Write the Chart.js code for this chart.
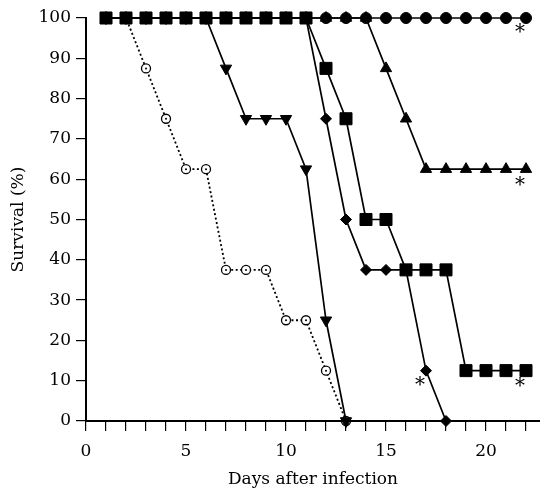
<!DOCTYPE html>
<html><head><meta charset="utf-8">
<script src="https://cdn.jsdelivr.net/npm/chart.js@4/dist/chart.umd.min.js"></script>
<style>html,body{margin:0;padding:0;background:#fff}#wrap{width:540px;height:491px}</style>
</head><body><div id="wrap"><canvas id="c" width="540" height="491"></canvas></div>
<script>
const days = [1,2,3,4,5,6,7,8,9,10,11,12,13,14,15,16,17,18,19,20,21,22];
const survCircleFilled = [100,100,100,100,100,100,100,100,100,100,100,100,100,100,100,100,100,100,100,100,100,100];
const survSquare = [100,100,100,100,100,100,100,100,100,100,100,87.5,75,50,50,37.5,37.5,37.5,12.5,12.5,12.5,12.5];
const survTriangleUp = [100,100,100,100,100,100,100,100,100,100,100,100,100,100,87.5,75,62.5,62.5,62.5,62.5,62.5,62.5];
const survDiamond = [100,100,100,100,100,100,100,100,100,100,100,75,50,37.5,37.5,37.5,12.5,0];
const survTriangleDown = [100,100,100,100,100,100,87.5,75,75,75,62.5,25,0];
const survCircleOpen = [100,100,87.5,75,62.5,62.5,37.5,37.5,37.5,25,25,12.5,0];
const xTickLabels = [0,5,10,15,20];
const asteriskX = [21.7, 21.7, 21.7, 16.7];
const asteriskY = [97.2, 59.4, 9.5, 9.7];

const pts = arr => arr.map((v,i)=>({x: days[i], y: v}));
const FONT = '"DejaVu Serif", "Liberation Serif", serif';

const asteriskPlugin = {
  id: 'asterisks',
  afterDatasetsDraw(chart) {
    const {ctx, scales:{x, y}} = chart;
    ctx.save();
    ctx.fillStyle = '#000';
    ctx.font = '20px ' + FONT;
    ctx.textAlign = 'center';
    ctx.textBaseline = 'middle';
    asteriskX.forEach((ax, i) => {
      ctx.fillText('*', x.getPixelForValue(ax), y.getPixelForValue(asteriskY[i]) + 4);
    });
    ctx.restore();
  }
};

const line = {borderColor:'#000', borderWidth:1.7, pointBackgroundColor:'#000', pointBorderColor:'#000', pointBorderWidth:1, tension:0, fill:false};

new Chart(document.getElementById('c'), {
  type: 'line',
  data: {
    datasets: [
      Object.assign({label:'square', data: pts(survSquare), pointStyle:'rect', pointRadius:8.5}, line),
      Object.assign({label:'circle', data: pts(survCircleFilled), pointStyle:'circle', pointRadius:5.5}, line),
      Object.assign({label:'triUp', data: pts(survTriangleUp), pointStyle:'triangle', pointRadius:6.5}, line),
      Object.assign({label:'diamond', data: pts(survDiamond), pointStyle:'rectRot', pointRadius:5.5}, line),
      Object.assign({label:'triDown', data: pts(survTriangleDown), pointStyle:'triangle', pointRotation:180, pointRadius:6.5}, line),
      {label:'openDot', data: pts(survCircleOpen), showLine:false, pointStyle:'circle', pointRadius:1, pointBackgroundColor:'#000', pointBorderColor:'#000', pointBorderWidth:0},
      {label:'open', data: pts(survCircleOpen), borderColor:'#000', borderWidth:1.8, borderDash:[2,2.5], pointStyle:'circle', pointRadius:4.5, pointBackgroundColor:'#fff', pointBorderColor:'#000', pointBorderWidth:1.3, tension:0, fill:false}
    ]
  },
  options: {
    responsive:false, animation:false, devicePixelRatio:1,
    layout:{autoPadding:false, padding:{top:18,right:0,bottom:0,left:0}},
    plugins:{legend:{display:false}, tooltip:{enabled:false}},
    elements:{point:{hoverRadius:0}},
    clip:false,
    scales:{
      x:{type:'linear', min:0, max:22.7,
        afterFit(s){ s.height = 70; s.paddingRight = 0; s.paddingLeft = 0; },
        ticks:{stepSize:1, includeBounds:false, autoSkip:false, maxRotation:0, padding:10, color:'#000', font:{family:FONT,size:17},
          callback:(v)=> xTickLabels.includes(v) ? String(v) : ''},
        grid:{drawOnChartArea:false, drawTicks:true, tickLength:10, color:'#000', lineWidth:1.2},
        border:{display:true, color:'#000', width:2},
        title:{display:true, text:'Days after infection', color:'#000', font:{family:FONT,size:17}, padding:{top:0,bottom:1}}
      },
      y:{min:0, max:100,
        afterFit(s){ s.width = 86; },
        ticks:{stepSize:10, padding:5, color:'#000', font:{family:FONT,size:17}},
        grid:{drawOnChartArea:false, drawTicks:true, tickLength:10, color:'#000', lineWidth:1.2},
        border:{display:true, color:'#000', width:2},
        title:{display:true, text:'Survival (%)', color:'#000', font:{family:FONT,size:17}, padding:{top:8,bottom:0}}
      }
    }
  },
  plugins:[asteriskPlugin]
});
</script></body></html>
